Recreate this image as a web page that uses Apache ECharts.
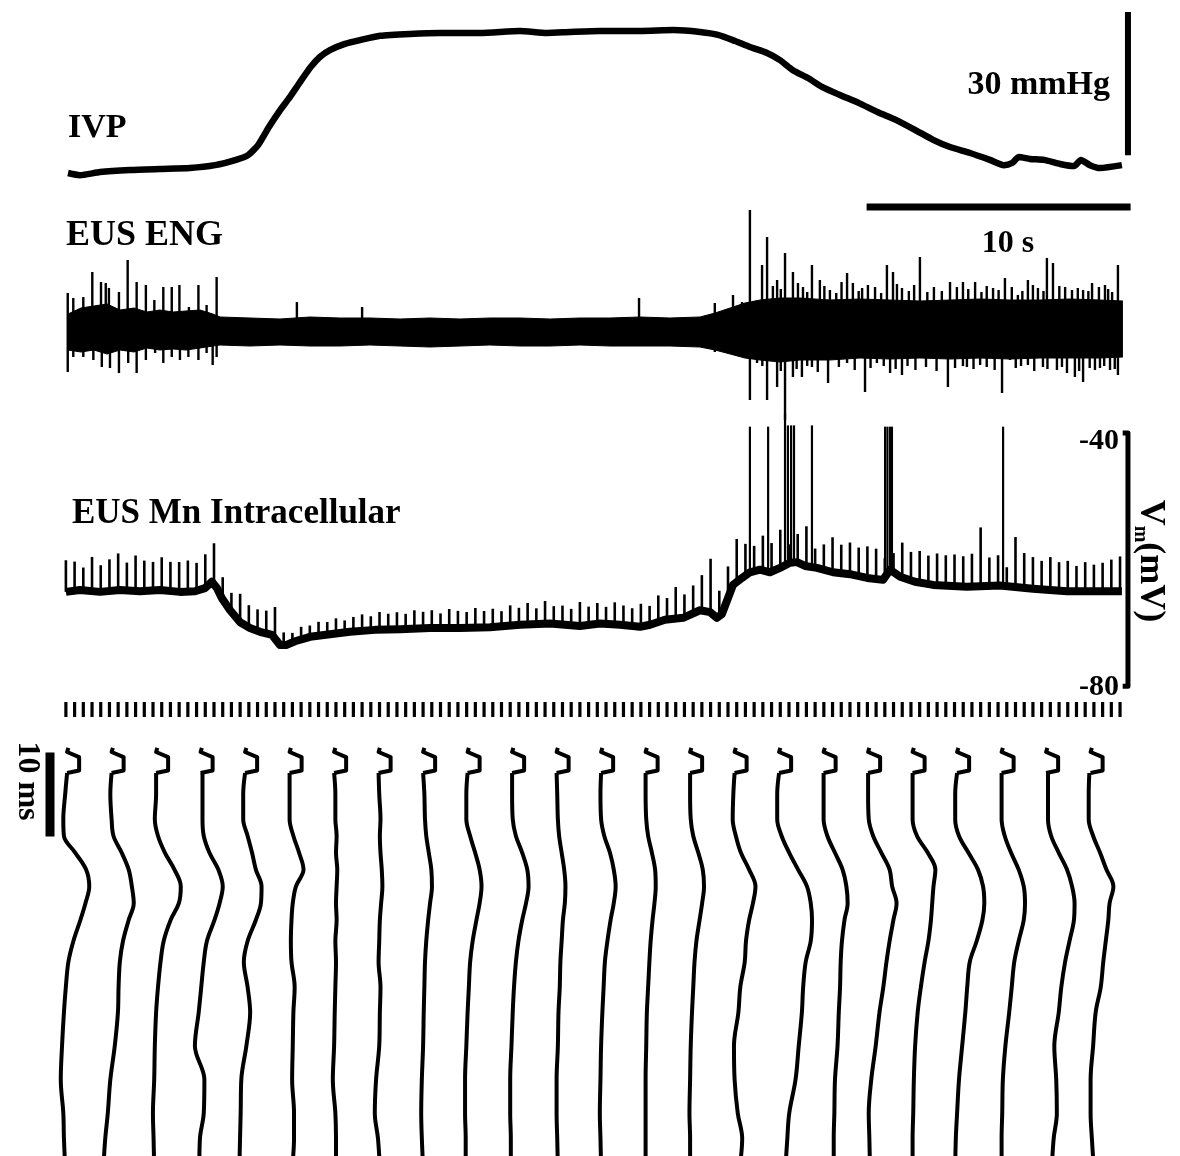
<!DOCTYPE html>
<html>
<head>
<meta charset="utf-8">
<script src="https://cdn.jsdelivr.net/npm/echarts@6/dist/echarts.min.js"></script>
<style>
  html, body { margin: 0; padding: 0; background: #fff; }
  #chart { width: 1180px; height: 1156px; }
</style>
</head>
<body>
<div id="chart"></div>
<script>
// ---------- Intravesical pressure (time in s, pressure in mmHg) ----------
const ivpTimes = [0, 0.45, 1.21, 2.35, 3.48, 4.62, 5.57, 6.36, 6.82, 7.2, 7.61, 8.03, 8.41, 8.79, 9.2, 9.55, 9.92, 10.49, 11.06, 11.82, 12.95, 14.09, 15.61, 17.12, 18.14, 19.02, 20.15, 21.67, 22.95, 23.94, 24.62, 25.27, 25.83, 26.48, 26.97, 27.46, 28.03, 28.56, 29.24, 29.96, 30.68, 31.36, 32.08, 32.77, 33.41, 34.17, 34.92, 35.45, 35.76, 36.02, 36.44, 36.97, 37.58, 38.11, 38.37, 38.71, 39.09, 39.92];
const ivpMmHg = [7.35, 6.9, 7.55, 7.98, 8.2, 8.4, 9.0, 10.1, 11.1, 13.2, 17.0, 20.5, 23.3, 26.4, 29.6, 31.7, 33.1, 34.4, 35.2, 36.1, 36.5, 36.7, 36.7, 37.1, 36.7, 36.9, 37.1, 37.1, 37.3, 36.9, 36.3, 35.0, 33.75, 32.5, 31.0, 28.9, 27.25, 25.4, 23.7, 22.0, 20.1, 18.5, 16.4, 14.3, 12.8, 11.55, 10.1, 9.0, 9.45, 10.7, 10.3, 10.1, 9.24, 8.8, 10.1, 9.0, 8.4, 9.0];

// ---------- EUS ENG (uV): noise envelope and individual unit spikes ----------
const engTimes = [0, 0.49, 0.98, 1.48, 1.97, 2.5, 2.99, 3.48, 3.98, 4.47, 5.0, 5.49, 5.76, 6.89, 8.03, 9.17, 10.3, 11.44, 12.58, 13.71, 14.85, 15.98, 17.12, 18.26, 19.39, 20.53, 21.67, 22.8, 23.94, 24.51, 25.08, 25.64, 26.21, 26.97, 27.73, 28.86, 30.0, 31.14, 32.27, 33.41, 34.55, 35.68, 36.82, 37.95, 39.09, 39.96];
const engUpper = [34, 46, 50, 54, 42, 46, 38, 42, 38, 40, 42, 34, 28, 26, 24, 28, 26, 26, 24, 26, 24, 26, 26, 24, 26, 26, 28, 26, 28, 36, 46, 56, 62, 66, 66, 62, 64, 62, 60, 62, 64, 62, 62, 64, 62, 60];
const engLower = [-38, -42, -38, -46, -38, -42, -34, -38, -36, -38, -34, -30, -28, -30, -28, -30, -30, -28, -30, -32, -30, -28, -30, -30, -28, -30, -30, -30, -32, -38, -46, -54, -58, -62, -58, -58, -54, -56, -54, -56, -54, -56, -54, -54, -54, -52];
const engSpikesUp = [
  [-0.01, 76], [0.2, 66], [0.58, 68], [0.92, 118], [1.25, 98], [1.43, 96], [1.55, 86], [1.93, 78], [2.26, 142], [2.6, 98],
  [2.95, 92], [3.27, 62], [3.61, 88], [3.93, 88], [4.22, 92], [4.58, 48], [4.94, 92], [5.25, 52], [5.63, 108],
  [8.67, 58], [11.14, 48], [21.63, 66], [24.5, 56],
  [25.19, 72], [25.53, 58], [25.83, 242], [26.29, 132], [26.48, 188], [26.7, 90], [26.86, 102], [27.0, 84], [27.16, 156],
  [27.46, 118], [27.65, 96], [27.84, 88], [28.0, 78], [28.18, 132], [28.48, 102], [28.65, 90], [28.86, 82], [29.1, 76],
  [29.3, 98], [29.51, 116], [29.73, 96], [29.95, 80], [30.08, 86], [30.3, 92], [30.57, 88], [30.8, 76], [31.02, 132],
  [31.25, 118], [31.4, 94], [31.59, 86], [31.85, 80], [32.05, 92], [32.27, 148], [32.55, 78], [32.8, 88], [33.1, 80],
  [33.41, 98], [33.67, 88], [33.9, 98], [34.1, 84], [34.36, 98], [34.6, 78], [34.8, 90], [35.04, 86], [35.25, 82],
  [35.49, 106], [35.75, 88], [35.98, 72], [36.15, 80], [36.36, 102], [36.55, 92], [36.74, 86], [36.95, 80], [37.08, 146],
  [37.31, 136], [37.55, 90], [37.77, 88], [38.03, 82], [38.25, 86], [38.45, 82], [38.65, 80], [38.79, 96], [39.05, 88],
  [39.28, 92], [39.4, 84], [39.55, 78], [39.77, 132]
];
const engSpikesDown = [
  [-0.01, -82], [0.2, -52], [0.58, -52], [0.96, -58], [1.28, -72], [1.59, -74], [1.93, -84], [2.28, -64], [2.6, -84],
  [2.95, -58], [3.3, -44], [3.61, -64], [3.93, -52], [4.24, -58], [4.56, -52], [4.94, -58], [5.25, -44], [5.48, -68], [5.63, -52],
  [24.5, -42],
  [25.83, -138], [26.1, -64], [26.3, -70], [26.48, -138], [26.86, -112], [27.0, -80], [27.16, -178], [27.46, -92],
  [27.6, -76], [27.8, -92], [28.0, -70], [28.18, -72], [28.4, -82], [28.79, -104], [29.2, -72], [29.51, -64], [29.8, -78],
  [30.19, -122], [30.4, -74], [30.64, -64], [30.9, -70], [31.14, -84], [31.35, -76], [31.59, -88], [31.8, -70],
  [32.1, -78], [32.5, -72], [32.9, -80], [33.33, -112], [33.6, -74], [33.9, -70], [34.05, -72], [34.3, -76], [34.55, -68],
  [34.8, -72], [35.1, -78], [35.38, -124], [35.68, -58], [35.9, -74], [36.1, -70], [36.36, -68], [36.6, -80], [36.93, -72],
  [37.1, -76], [37.46, -78], [37.65, -72], [37.84, -84], [38.14, -92], [38.3, -80], [38.45, -102], [38.7, -74],
  [38.9, -78], [39.09, -74], [39.25, -70], [39.47, -78], [39.65, -76], [39.77, -88]
];

// ---------- EUS motoneuron membrane potential (mV) ----------
const mnTimes = [-0.08, 0.45, 1.21, 1.97, 2.73, 3.48, 4.24, 4.81, 5.19, 5.45, 5.64, 5.83, 6.14, 6.52, 6.89, 7.27, 7.73, 8.03, 8.26, 8.6, 9.17, 9.92, 10.68, 11.63, 12.58, 13.71, 14.85, 15.98, 17.12, 18.26, 19.39, 20.15, 20.91, 21.67, 22.05, 22.61, 23.3, 23.94, 24.32, 24.58, 24.77, 25.19, 25.53, 25.83, 26.21, 26.59, 26.97, 27.35, 27.61, 27.92, 28.37, 28.98, 29.62, 30.27, 30.87, 31.14, 31.52, 32.08, 32.77, 34.05, 35.3, 36.55, 37.84, 39.09, 39.92];
const mnBaseline = [-65.1, -64.8, -65.1, -64.8, -65.0, -64.8, -65.1, -65.0, -64.5, -63.5, -64.5, -66.1, -68.0, -69.9, -70.8, -71.4, -71.9, -73.5, -73.5, -72.9, -72.2, -71.8, -71.4, -71.1, -71.0, -70.8, -70.8, -70.7, -70.3, -70.1, -70.5, -70.1, -70.3, -70.6, -70.3, -69.5, -69.2, -68.0, -68.3, -69.2, -68.6, -64.0, -62.9, -62.0, -61.6, -62.0, -61.3, -60.5, -60.4, -61.0, -61.3, -62.0, -62.3, -62.9, -63.2, -61.6, -62.7, -63.5, -64.0, -64.3, -64.1, -64.6, -65.0, -65.0, -65.0];

// spike event times (s), one per sweep marker
const spikeTimes = [-0.08, 0.25, 0.58, 0.91, 1.24, 1.57, 1.90, 2.23, 2.56, 2.89, 3.22, 3.55, 3.88, 4.21, 4.54, 4.87, 5.20, 5.53, 5.86, 6.19,
  6.52, 6.85, 7.18, 7.51, 7.84, 8.17, 8.50, 8.83, 9.16, 9.49, 9.82, 10.15, 10.48, 10.81, 11.14, 11.47, 11.80, 12.13, 12.46, 12.79,
  13.12, 13.45, 13.78, 14.11, 14.44, 14.77, 15.10, 15.43, 15.76, 16.09, 16.42, 16.75, 17.08, 17.41, 17.74, 18.07, 18.40, 18.73, 19.06, 19.39,
  19.72, 20.05, 20.38, 20.71, 21.04, 21.37, 21.70, 22.03, 22.36, 22.69, 23.02, 23.35, 23.68, 24.01, 24.34, 24.67, 25.00, 25.33, 25.66, 25.99,
  26.32, 26.65, 26.98, 27.31, 27.64, 27.97, 28.30, 28.63, 28.96, 29.29, 29.62, 29.95, 30.28, 30.61, 30.94, 31.27, 31.60, 31.93, 32.26, 32.59,
  32.92, 33.25, 33.58, 33.91, 34.24, 34.57, 34.90, 35.23, 35.56, 35.89, 36.22, 36.55, 36.88, 37.21, 37.54, 37.87, 38.20, 38.53, 38.86, 39.19,
  39.52, 39.85];
// height of each small spike above the membrane baseline (mV)
const spikeAmps = [5.0, 4.6, 3.6, 5.4, 4.2, 5.0, 5.8, 4.4, 5.6, 4.8, 4.5, 5.2, 4.6, 4.7, 4.9, 4.4, 5.3, 6.5,
  3.5, 3.0, 4.5, 3.5, 3.4, 3.6, 5.0, 2.0,
  1.5, 2.0, 1.8, 2.2, 2.0, 2.4, 1.9, 2.3, 2.6, 2.2, 2.8, 2.5, 2.7, 2.4, 2.9, 2.6, 2.8, 2.3, 3.0, 2.7, 2.5, 3.1, 2.6, 2.9,
  2.4, 3.2, 2.7, 3.4, 2.5, 3.6, 2.8, 3.0, 2.6, 3.8, 2.9, 3.3, 2.7, 3.5, 3.1, 2.8, 3.6, 3.0, 4.2, 3.4, 5.0, 3.6, 4.4, 5.6,
  8.5, 4.0, 5.0, 6.8, 5.0, 4.0, 5.5, 4.5, 6.0, 3.0, 4.5, 6.3, 3.0, 4.0, 5.5, 4.5, 5.0, 4.5, 5.0, 4.8,
  3.0, 3.0, 5.5, 4.5, 5.0, 4.5, 5.0, 4.8, 5.0, 4.8, 5.2, 9.3, 4.5, 4.8, 3.0, 7.9, 5.5, 5.0, 4.5, 5.2,
  4.5, 4.8, 4.0, 4.6, 4.2, 4.5, 5.0, 5.5];
// full action potentials: [time s, peak mV]
const actionPotentials = [[25.83, -39], [26.52, -39], [27.16, -37], [27.27, -38.8], [27.39, -38.8], [27.5, -38.8],
  [28.18, -38.8], [30.95, -39], [31.04, -39], [31.14, -39], [31.21, -39], [35.42, -39]];

// ---------- Rotated single sweeps (deflection mV vs time ms) ----------
const sweepHook = [[0.2, -0.5], [0, 0], [1.9, 0.6], [1.9, 2.2], [0, 2.5]];
const sweepTimes = [2.5, 5, 8, 10, 12, 14, 16, 18, 20, 22.5, 25, 28, 31, 35, 39, 43, 46, 49.5];
const sweeps = [
  [0, -0.3, -0.6, -0.5, 1.3, 3.0, 3.5, 2.9, 2.1, 1.0, 0.2, -0.2, -0.5, -0.8, -1.0, -0.6, -0.5, -0.3],
  [0, -0.2, 0, 0.3, 1.6, 2.7, 3.2, 3.5, 2.7, 1.8, 1.3, 1.1, 1.0, 0.5, -0.2, -0.6, -1.0, -1.3],
  [0, 0, -0.2, 0.3, 1.4, 2.9, 3.9, 3.6, 2.3, 1.2, 0.7, 0.3, 0, -0.2, -0.3, -0.5, -0.4, -0.3],
  [0.3, 0.3, 0.3, 0.5, 1.4, 2.8, 3.5, 3.0, 2.2, 1.0, 0.5, 0.1, -0.3, -0.9, 0.6, 0.5, -0.1, -0.2],
  [0, -0.3, -0.3, 0.4, 1.1, 1.7, 2.6, 2.5, 1.7, 0.4, -0.2, 0.4, 0.8, 0.2, -0.6, -0.7, -0.8, -0.9],
  [0, 0, 0, 0.6, 1.5, 2.2, 1.0, 0.5, 0.3, 0.2, 0.3, 0.8, 0.6, 0.5, 0.4, 0.7, 0.7, 0.4],
  [0, 0.2, 0.2, 0.4, 0.3, 0.5, 0.4, 0.3, 0.4, 0.2, 0.3, 0.2, 0.1, 0, -0.2, 0.2, 0.3, 0.3],
  [0, 0.1, 0.3, 0.2, 0.3, 0.5, 0.6, 0.4, 0.2, 0.1, 0, 0.3, 0.2, 0.1, -0.4, -0.6, -0.1, 0.2],
  [0, 0.2, 0.3, 0.5, 0.9, 1.3, 1.4, 1.1, 0.8, 0.5, 0.3, 0.2, 0.1, 0, -0.2, -0.3, -0.2, 0],
  [0, -0.2, -0.2, 0.4, 1.2, 1.9, 2.2, 1.9, 1.4, 0.8, 0.4, 0.2, 0, -0.2, -0.4, -0.4, -0.3, -0.3],
  [0, 0, 0.1, 0.6, 1.6, 2.4, 2.6, 2.2, 1.6, 1.0, 0.6, 0.3, 0.1, -0.1, -0.3, -0.3, -0.2, -0.2],
  [0, 0.1, 0.2, 0.4, 0.8, 1.2, 1.4, 1.3, 1.0, 0.8, 0.6, 0.5, 0.3, 0.2, 0, 0, 0.1, 0.2],
  [0, -0.1, 0, 0.5, 1.4, 2.0, 2.3, 2.0, 1.5, 1.0, 0.6, 0.4, 0.2, 0, -0.1, -0.2, -0.1, 0],
  [0, 0, 0.1, 0.4, 1.0, 1.5, 1.6, 1.4, 1.1, 0.8, 0.6, 0.4, 0.2, 0.1, 0, 0, 0, 0],
  [0, 0, 0.1, 0.5, 1.3, 2.0, 2.2, 1.9, 1.5, 1.0, 0.7, 0.5, 0.3, 0.1, 0, -0.1, 0, 0],
  [0, -0.2, -0.3, 0.2, 1.0, 2.3, 3.3, 2.9, 2.3, 1.8, 1.6, 0.9, 0.6, -0.1, 0.0, 0.5, 1.2, 0.8],
  [0, -0.3, -0.3, 0.4, 1.6, 3.0, 4.4, 5.0, 5.2, 5.0, 4.2, 3.8, 3.6, 3.1, 2.6, 1.6, 1.3, 1.0],
  [0, 0, 0, 0.6, 1.8, 3.0, 3.6, 3.8, 3.3, 2.9, 2.7, 2.6, 2.4, 2.2, 1.8, 1.7, 1.6, 1.6],
  [0, 0, 0.1, 0.8, 2.1, 3.4, 3.8, 4.5, 4.0, 3.4, 2.9, 2.4, 1.8, 1.2, 0.5, 0.1, 0.2, 0.3],
  [0, 0, 0, 0.7, 2.4, 3.6, 3.3, 3.1, 2.9, 2.5, 1.9, 1.3, 0.8, 0.4, 0.2, 0.1, 0, 0],
  [0, -0.3, -0.3, 0.3, 1.8, 3.3, 4.1, 4.3, 4.0, 3.1, 2.0, 1.6, 1.3, 0.8, 0.3, 0, -0.2, -0.3],
  [0, 0, 0, 0.5, 1.5, 2.7, 3.5, 3.7, 3.5, 2.7, 2.0, 1.6, 1.2, 0.6, 0.2, 0.1, 0, 0],
  [0.3, 0.3, 0.3, 0.8, 2.0, 3.3, 4.1, 4.5, 4.4, 3.7, 3.0, 2.4, 2.0, 1.3, 1.6, 1.7, 1.2, 0.9],
  [-0.2, -0.3, -0.3, 0.4, 1.5, 2.5, 3.6, 3.0, 2.8, 2.4, 2.0, 1.6, 0.8, 0.4, 0, 0, 0.2, 0.5]
];

// ---------- Layout ----------
const W = 1180;
const PX_PER_S = 26.4, T0_PX = 68;                 // time scale shared by the upper panels
const T_MIN = -T0_PX / PX_PER_S, T_MAX = (W - T0_PX) / PX_PER_S;
const SWEEP_PX_PER_MV = 6.33, SWEEP_X0_MV = -10.6, SWEEP_GAP = 7.03;
const INK = '#000';
const SERIF = '"Liberation Serif", "Times New Roman", serif';

const zip = (a, b) => a.map((v, i) => [v, b[i]]);
function baseAt(t) {
  if (t <= mnTimes[0]) return mnBaseline[0];
  for (let i = 1; i < mnTimes.length; i++) {
    if (t <= mnTimes[i]) {
      const f = (t - mnTimes[i - 1]) / (mnTimes[i] - mnTimes[i - 1]);
      return mnBaseline[i - 1] + f * (mnBaseline[i] - mnBaseline[i - 1]);
    }
  }
  return mnBaseline[mnBaseline.length - 1];
}
// vertical segment [t, from, to] drawn through the axis scales
function segmentRenderer(width) {
  return function (params, api) {
    const a = api.coord([api.value(0), api.value(1)]);
    const b = api.coord([api.value(0), api.value(2)]);
    return { type: 'line', shape: { x1: a[0], y1: a[1], x2: b[0], y2: b[1] },
             style: { stroke: INK, lineWidth: width } };
  };
}
function line(data, xi, width, extra) {
  return Object.assign({ type: 'line', xAxisIndex: xi, yAxisIndex: xi, data, symbol: 'none',
    silent: true, lineStyle: { color: INK, width, join: 'round' }, z: 3 }, extra || {});
}
function segs(data, xi, width) {
  return { type: 'custom', xAxisIndex: xi, yAxisIndex: xi, data, renderItem: segmentRenderer(width),
    encode: { x: 0, y: [1, 2] }, silent: true, clip: false, z: 4 };
}

const timeX = gi => ({ gridIndex: gi, type: 'value', min: T_MIN, max: T_MAX, show: false });

const series = [
  // IVP trace and 30 mmHg bar
  line(zip(ivpTimes, ivpMmHg), 0, 6.5, { smooth: 0.2 }),
  line([[40.15, 11.1], [40.15, 41.1]], 0, 6),
  // ENG band, unit spikes, 10 s bar
  line(zip(engTimes, engUpper), 1, 1, { areaStyle: { color: INK, opacity: 1 } }),
  line(zip(engTimes, engLower), 1, 1, { areaStyle: { color: INK, opacity: 1 } }),
  segs(engSpikesUp.map(([t, v]) => [t, 0, v]), 1, 2.4),
  segs(engSpikesDown.map(([t, v]) => [t, 0, v]), 1, 2.4),
  line([[30.25, 248], [40.25, 248]], 1, 7),
  // motoneuron trace, small spikes, action potentials, Vm bar
  line(zip(mnTimes, mnBaseline), 2, 8),
  segs(spikeTimes.map((t, i) => [t, baseAt(t), baseAt(t) + spikeAmps[i]]), 2, 2.6),
  segs(actionPotentials.map(([t, p]) => [t, baseAt(t), p]), 2, 2.2),
  line([[39.95, -40], [40.15, -40], [40.15, -80], [39.95, -80]], 2, 5),
  // spike event markers
  segs(spikeTimes.map(t => [t, 0, 1]), 3, 3.2),
  // 10 ms bar
  line([[-2.7, 0.07], [-2.7, 10.07]], 4, 9)
];
sweeps.forEach((vals, k) => {
  const off = k * SWEEP_GAP;
  series.push(line(sweepHook.map(([v, t]) => [off + v, t]), 4, 4));
  series.push(line(sweepTimes.map((t, i) => [off + vals[i], t]), 4, 4, { smooth: 0.35 }));
});

function txt(text, x, y, size, align, extra) {
  return Object.assign({
    type: 'text', x, y, silent: true,
    style: { text, font: 'bold ' + size + 'px ' + SERIF, fill: INK,
             textAlign: align, align, textVerticalAlign: 'middle', verticalAlign: 'middle' }
  }, extra || {});
}

const option = {
  animation: false,
  backgroundColor: '#fff',
  grid: [
    { left: 0, width: W, top: 0, height: 200 },
    { left: 0, width: W, top: 200, height: 262 },
    { left: 0, width: W, top: 414, height: 291.2 },
    { left: 0, width: W, top: 702, height: 15 },
    { left: 0, width: W, top: 743.6, height: 412.4 }
  ],
  xAxis: [timeX(0), timeX(1), timeX(2), timeX(3),
    { gridIndex: 4, type: 'value', min: SWEEP_X0_MV, max: SWEEP_X0_MV + W / SWEEP_PX_PER_MV, show: false }],
  yAxis: [
    { gridIndex: 0, type: 'value', min: 1.7, max: 43.6, show: false },
    { gridIndex: 1, type: 'value', min: -262, max: 262, show: false },
    { gridIndex: 2, type: 'value', min: -83, max: -37, show: false },
    { gridIndex: 3, type: 'value', min: 0, max: 1, show: false },
    { gridIndex: 4, type: 'value', min: -1, max: 48.1, inverse: true, show: false }
  ],
  series,
  graphic: { elements: [
    txt('IVP', 68, 128, 34, 'left'),
    txt('EUS ENG', 66, 236, 36, 'left'),
    txt('EUS Mn Intracellular', 72, 514, 35, 'left'),
    txt('30 mmHg', 1110, 85, 34, 'right'),
    txt('10 s', 1008, 244, 32, 'center'),
    txt('-40', 1119, 441, 30, 'right'),
    txt('-80', 1119, 687, 30, 'right'),
    txt('10 ms', 27, 781, 32, 'center', { rotation: -Math.PI / 2 }),
    {
      type: 'text', x: 1150, y: 561, rotation: -Math.PI / 2, silent: true,
      style: {
        text: '{v|V}{s|m}{v|(mV)}', fill: INK, textAlign: 'center', align: 'center',
        textVerticalAlign: 'middle', verticalAlign: 'middle',
        rich: {
          v: { fontFamily: SERIF, fontWeight: 'bold', fontSize: 36, lineHeight: 40, fill: INK },
          s: { fontFamily: SERIF, fontWeight: 'bold', fontSize: 20, lineHeight: 18, verticalAlign: 'bottom', fill: INK }
        }
      }
    }
  ] }
};

const chart = echarts.init(document.getElementById('chart'), null, { renderer: 'canvas' });
chart.setOption(option);
</script>
</body>
</html>
